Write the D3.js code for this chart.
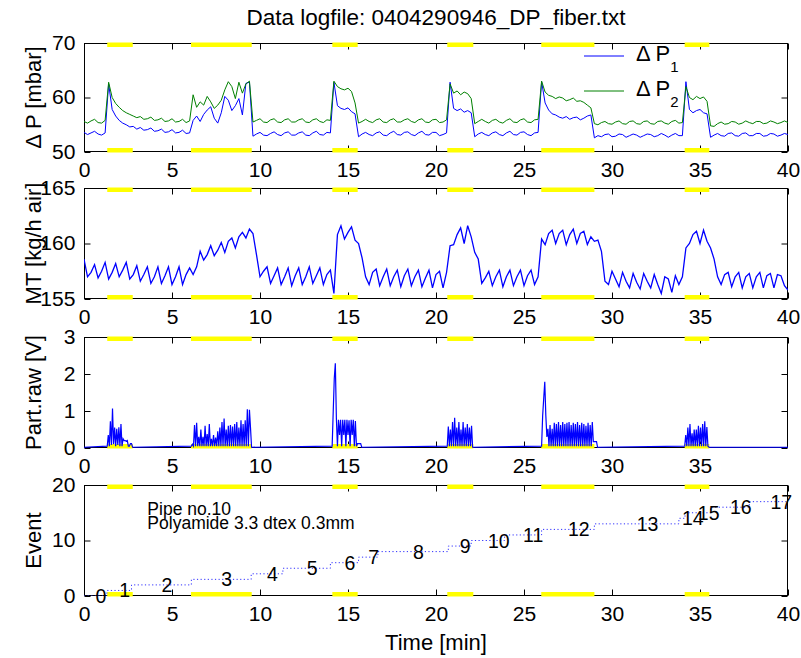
<!DOCTYPE html>
<html><head><meta charset="utf-8">
<script src="https://cdn.jsdelivr.net/npm/d3@7"></script>
<style>body{margin:0;background:#fff}</style>
</head><body><svg id="c" width="801" height="658"></svg>
<script>
// ---------- data ----------
const sampleStart = 0, sampleStep = 0.2; // minutes, for dp1/dp2/mt
const dp1 = [
53.6,53.2,53.5,53.8,53.3,53.1,53.5,62.5,57.8,56.6,
55.8,55.3,55.0,54.6,54.7,54.2,54.5,54.0,54.1,54.4,
53.8,53.9,54.2,53.6,53.7,54.1,53.5,53.6,54.0,53.4,
53.5,55.8,56.6,55.6,56.9,57.7,58.3,56.2,55.3,57.2,
60.2,59.5,57.6,58.5,59.8,56.8,62.6,62.8,52.9,53.3,
53.6,53.1,53.0,53.4,53.7,53.2,53.0,53.5,53.7,53.1,
53.1,53.5,53.7,53.1,53.0,53.5,53.8,53.2,53.1,53.6,
53.5,62.8,58.5,58.0,57.8,58.1,57.4,57.0,52.8,53.3,
53.6,53.2,53.0,53.5,53.7,53.1,53.0,53.5,53.8,53.2,
53.1,53.6,53.7,53.2,53.0,53.5,53.8,53.2,53.1,53.6,
53.6,53.0,53.2,53.5,62.8,58.0,57.6,57.9,57.3,57.6,
57.2,52.8,53.3,53.6,53.2,53.0,53.5,53.7,53.2,53.0,
53.5,53.8,53.2,53.1,53.6,53.7,53.2,53.0,53.5,53.6,
62.9,59.0,57.7,57.0,56.8,56.4,56.2,56.5,56.0,56.3,
56.4,55.9,56.2,56.6,56.8,52.6,53.0,52.8,53.2,53.3,
52.8,52.9,53.3,53.2,52.7,53.0,53.3,53.1,52.7,53.0,
53.3,53.2,52.8,53.0,53.4,53.1,52.7,53.1,53.4,53.0,
53.0,62.9,57.8,57.2,57.6,57.8,57.2,57.0,52.7,53.1,
53.4,53.0,52.9,53.4,53.5,53.0,52.9,53.4,53.5,53.0,
53.0,53.4,53.4,52.9,53.0,53.4,53.3,52.9,53.1,53.4,
53.2];
const dp2 = [
55.6,55.3,55.7,56.0,55.4,55.3,55.8,62.8,60.0,58.9,
58.2,57.6,57.2,56.9,56.6,56.3,56.5,56.0,56.1,56.4,
55.8,55.9,56.2,55.6,55.7,56.1,55.5,55.6,56.0,55.4,
55.7,60.5,58.2,59.2,58.6,60.2,59.2,58.0,58.6,59.5,
61.4,62.9,62.0,59.8,62.8,60.8,62.5,63.0,55.5,55.8,
56.1,55.5,55.4,55.9,56.1,55.5,55.4,55.9,56.1,55.5,
55.5,55.9,56.1,55.5,55.4,55.9,56.1,55.6,55.4,55.9,
55.8,63.0,62.0,61.6,61.4,61.7,61.1,59.0,55.3,55.6,
56.0,55.6,55.4,55.9,56.1,55.5,55.4,55.9,56.1,55.5,
55.5,55.9,56.1,55.6,55.4,55.9,56.1,55.5,55.4,55.9,
56.0,55.4,55.5,55.9,62.5,60.8,61.2,60.5,61.0,60.7,
59.8,55.2,55.6,56.0,55.6,55.3,55.8,56.0,55.5,55.3,
55.8,56.1,55.5,55.4,55.9,56.1,55.5,55.4,55.9,56.0,
63.0,61.0,60.4,60.2,59.8,60.1,59.9,59.4,59.6,59.9,
59.3,59.4,59.1,58.6,58.1,55.2,55.0,55.4,55.6,55.2,
55.1,55.5,55.7,55.2,55.1,55.6,55.7,55.2,55.1,55.6,
55.7,55.2,55.1,55.6,55.7,55.3,55.1,55.6,55.8,55.3,
55.4,62.0,60.0,59.6,60.2,59.8,60.1,59.3,54.8,54.7,
55.2,55.5,55.1,55.2,55.6,55.5,55.1,55.3,55.7,55.4,
55.2,55.6,55.6,55.2,55.3,55.7,55.5,55.2,55.4,55.7,
55.4];
const mt = [
158.6,157.0,157.4,158.1,156.9,157.5,158.3,156.8,157.4,158.2,
157.0,157.6,158.3,156.8,157.2,158.0,156.6,157.2,157.9,156.4,
157.0,157.9,156.4,157.1,157.9,156.3,157.0,157.9,156.3,157.2,
157.8,157.2,157.9,159.3,158.5,159.0,159.8,158.9,159.4,160.1,
159.2,160.2,160.5,159.6,160.6,161.0,160.5,161.3,160.9,159.0,
157.0,157.5,157.9,156.4,157.1,157.8,156.3,157.0,157.8,156.2,
157.1,157.8,156.3,157.0,157.9,156.4,157.1,157.8,156.3,157.2,
157.6,155.5,160.8,161.6,160.4,161.0,161.5,160.3,160.0,158.7,
157.0,156.3,157.4,157.7,156.2,157.0,157.7,156.2,157.0,157.6,
156.1,157.1,157.7,156.2,157.0,157.6,156.1,156.9,157.6,156.0,
157.2,157.5,156.0,157.4,159.8,159.9,160.8,161.4,160.0,161.6,
160.6,159.2,158.6,156.4,156.9,157.5,156.2,157.0,157.6,156.1,
157.0,157.6,156.2,157.0,157.6,156.2,157.1,157.6,156.3,157.0,
160.4,159.9,160.9,161.2,160.0,160.9,161.2,159.9,160.8,161.3,
160.0,160.9,161.1,159.9,160.6,160.2,160.3,159.3,156.6,156.3,
157.5,156.8,156.1,157.4,156.6,156.0,157.3,156.5,155.9,157.3,
156.6,156.0,157.2,156.3,155.5,157.0,156.8,155.6,157.1,156.3,
157.0,159.6,160.0,160.8,161.1,160.0,161.2,160.2,159.6,158.6,
157.0,156.3,157.2,157.4,156.1,157.0,157.4,156.0,157.0,157.3,
156.0,157.0,157.4,156.0,157.1,157.3,156.0,157.2,157.1,156.2,
155.8];

// particle signal: baseline outside bursts, bursts sampled every partStep minutes
const partBaseline = 0.02;
const partStep = 0.06;
const partBurstStart = [1.32, 6.1, 14.1, 20.64, 26.0, 34.13];
const partBurst1 = [0.05,0.35,0.05,0.72,0.08,1.07,0.1,0.55,0.05,0.52,0.08,0.56,0.05,0.65,0.05,0.25,0.2,0.2,0.18,0.2,0.05,0.05,0.12,0.12,0.02];
const partBurst2 = [0.05,0.1,0.05,0.62,0.05,0.68,0.05,0.3,0.05,0.5,
 0.05,0.3,0.05,0.6,0.05,0.38,0.05,0.65,0.05,0.25,
 0.05,0.35,0.05,0.28,0.05,0.45,0.05,0.55,0.05,0.7,
 0.05,0.8,0.05,0.5,0.05,0.6,0.05,0.62,0.05,0.58,
 0.05,0.65,0.05,0.7,0.05,0.55,0.05,0.75,0.05,0.65,
 0.05,0.75,0.05,1.05,0.05,1.03,0.55,0.02];
const partBurst3 = [0.05,0.98,1.88,2.29,0.8,0.05,0.76,0.35,0.76,0.05,0.76,0.35,0.76,0.05,0.76,0.35,0.75,0.05,0.76,0.35,0.76,0.05,0.73,0.05,0.12,0.12,0.12,0.12,0.02];
const partBurst4 = [0.05,0.58,0.05,0.5,0.05,0.7,0.05,0.82,0.05,0.55,0.05,0.7,0.05,0.5,0.05,0.7,0.05,0.55,0.05,0.65,0.05,0.55,0.05,0.6,0.02];
const partBurst5 = [0.05,0.87,1.34,1.79,0.88,0.3,0.52,0.05,0.62,0.05,
 0.52,0.05,0.68,0.05,0.65,0.05,0.7,0.05,0.62,0.05,
 0.7,0.05,0.65,0.05,0.68,0.05,0.7,0.05,0.62,0.05,
 0.68,0.05,0.65,0.05,0.7,0.05,0.62,0.05,0.68,0.05,
 0.65,0.05,0.6,0.05,0.68,0.05,0.62,0.05,0.7,0.17,
 0.17,0.17,0.17,0.02];
const partBurst6 = [0.05,0.35,0.05,0.55,0.05,0.65,0.05,0.4,0.05,0.5,0.05,0.5,0.05,0.6,0.05,0.55,0.05,0.65,0.05,0.72,0.05,0.57,0.05,0.02];
const partBursts = [partBurst1, partBurst2, partBurst3, partBurst4, partBurst5, partBurst6];

// dosing periods (yellow marks)
const dosingStart = [1.32, 6.08, 14.11, 20.64, 25.98, 34.13];
const dosingEnd   = [2.77, 9.53, 15.55, 22.12, 29.0, 35.53];

// events
const eventTimes  = [0, 1.3, 2.7, 6.1, 9.5, 11.3, 14.0, 15.6, 16.7, 20.7, 22.0, 23.9, 26.0, 29.0, 33.8, 34.15, 35.6, 37.8];
const eventValues = [0, 1, 2, 3, 4, 5, 6, 7, 8, 9, 10, 11, 12, 13, 14, 15, 16, 17];
const eventEnd = 40.2;

// ticks & labels
const xTicks = [0, 5, 10, 15, 20, 25, 30, 35, 40];
const xTicksPart = [0, 5, 10, 15, 20, 25, 30, 35];
const yTicksDP = [50, 60, 70];
const yTicksMT = [155, 160, 165];
const yTicksPart = [0, 1, 2, 3];
const yTicksEvent = [0, 10, 20];
const titleText = "Data logfile: 0404290946_DP_fiber.txt";
const noteLines = ["Pipe no.10", "Polyamide 3.3 dtex 0.3mm"];
const noteT = 3.6;

// ---------- drawing ----------
const FONT = '"Liberation Sans", Arial, Helvetica, sans-serif';
const svg = d3.select('#c');
const L = 84, R = 788;
const x = d3.scaleLinear().domain([0, 40]).range([L, R]);

const panels = [
  {top: 43,  bot: 152, dom: [50, 70],   yt: yTicksDP,    xt: xTicks,     lab: 'Δ P [mbar]'},
  {top: 188, bot: 299, dom: [155, 165], yt: yTicksMT,    xt: xTicks,     lab: 'MT [kg/h air]'},
  {top: 337, bot: 448, dom: [0, 3],     yt: yTicksPart,  xt: xTicksPart, lab: 'Part.raw [V]'},
  {top: 485, bot: 596, dom: [0, 20],    yt: yTicksEvent, xt: xTicks,     lab: 'Event'}
];
const defs = svg.append('defs');

function styleAxis(g, size) {
  g.attr('font-family', FONT).attr('font-size', size);
  g.select('.domain').remove();
  g.selectAll('line').attr('stroke', '#000');
  g.selectAll('text').attr('fill', '#000');
}
function widen(g, f) {
  g.selectAll('text').each(function () {
    const len = this.getComputedTextLength();
    if (len > 0) d3.select(this).attr('textLength', len * f).attr('lengthAdjust', 'spacingAndGlyphs');
  });
}

panels.forEach((p, i) => {
  p.y = d3.scaleLinear().domain(p.dom).range([p.bot, p.top]);
  defs.append('clipPath').attr('id', 'cp' + i).append('rect')
    .attr('x', L).attr('y', p.top).attr('width', R - L).attr('height', p.bot - p.top);
  const g = svg.append('g');
  p.g = g;
  g.append('rect').attr('x', L + 0.5).attr('y', p.top + 0.5).attr('width', R - L - 1).attr('height', p.bot - p.top - 1)
    .attr('fill', '#fff').attr('stroke', '#000').attr('stroke-width', 1);
  g.append('g').attr('transform', `translate(${L + 0.5},0)`)
    .call(d3.axisLeft(p.y).tickValues(p.yt).tickSize(-6).tickPadding(9).tickFormat(d3.format('d')))
    .call(a => styleAxis(a, 19.5)).call(a => widen(a, 1.08));
  g.append('g').attr('transform', `translate(${R - 0.5},0)`)
    .call(d3.axisRight(p.y).tickValues(p.yt).tickSize(-6).tickFormat(''))
    .call(a => styleAxis(a, 19));
  g.append('g').attr('transform', `translate(0,${p.bot - 0.5})`)
    .call(d3.axisBottom(x).tickValues(p.xt).tickSize(-6).tickPadding(12).tickFormat(d3.format('d')))
    .call(a => styleAxis(a, 19.5)).call(a => widen(a, 1.08));
  g.append('g').attr('transform', `translate(0,${p.top + 0.5})`)
    .call(d3.axisTop(x).tickValues(xTicks).tickSize(-6).tickFormat(''))
    .call(a => styleAxis(a, 19));
  g.append('text').attr('transform', `translate(41,${(p.top + p.bot) / 2}) rotate(-90)`)
    .attr('text-anchor', 'middle').attr('font-family', FONT).attr('font-size', 22).attr('fill', '#000')
    .text(p.lab);
  const yel = g.append('g').attr('fill', '#ffff00');
  dosingStart.forEach((s, k) => {
    yel.append('rect').attr('x', x(s)).attr('width', x(dosingEnd[k]) - x(s)).attr('y', p.top - 0.5).attr('height', 4.5);
    yel.append('rect').attr('x', x(s)).attr('width', x(dosingEnd[k]) - x(s)).attr('y', p.bot - 4).attr('height', 4.5);
  });
  p.plot = g.append('g').attr('clip-path', `url(#cp${i})`);
});

// panel 1
const tAt = i => sampleStart + i * sampleStep;
const p1 = panels[0];
const line1 = d3.line().x((d, i) => x(tAt(i))).y(d => p1.y(d));
p1.plot.append('path').datum(dp1).attr('d', line1).attr('fill', 'none').attr('stroke', '#0000ff').attr('stroke-width', 1);
p1.plot.append('path').datum(dp2).attr('d', line1).attr('fill', 'none').attr('stroke', '#008000').attr('stroke-width', 1);
const leg = svg.append('g').attr('font-family', FONT).attr('fill', '#000');
[['#0000ff', '1', 56], ['#008000', '2', 91]].forEach(([c, s, yy]) => {
  leg.append('line').attr('x1', 584).attr('x2', 624).attr('y1', yy).attr('y2', yy).attr('stroke', c).attr('stroke-width', 1);
  const t = leg.append('text').attr('x', 636).attr('y', yy + 5).attr('font-size', 22);
  t.append('tspan').text('Δ P');
  t.append('tspan').attr('dy', 11).attr('font-size', 15).text(s);
});

// panel 2
const p2 = panels[1];
p2.plot.append('path').datum(mt)
  .attr('d', d3.line().x((d, i) => x(tAt(i))).y(d => p2.y(d)))
  .attr('fill', 'none').attr('stroke', '#0000ff').attr('stroke-width', 1.3);

// panel 3
const p3 = panels[2];
const partPts = [[0, partBaseline]];
partBursts.forEach((b, k) => b.forEach((v, j) => partPts.push([partBurstStart[k] + j * partStep, v])));
partPts.push([40, partBaseline]);
p3.plot.append('path').datum(partPts)
  .attr('d', d3.line().x(d => x(d[0])).y(d => p3.y(d[1])))
  .attr('fill', 'none').attr('stroke', '#0000ff').attr('stroke-width', 1.2);

// panel 4
const p4 = panels[3];
const evPts = eventTimes.map((t, k) => [t, eventValues[k]]).concat([[eventEnd, eventValues[eventValues.length - 1]]]);
p4.plot.append('path').datum(evPts)
  .attr('d', d3.line().curve(d3.curveStepAfter).x(d => x(d[0])).y(d => p4.y(d[1])))
  .attr('fill', 'none').attr('stroke', '#3030ff').attr('stroke-width', 1).attr('stroke-dasharray', '1.2,2.4');
const evLab = svg.append('g').attr('font-family', FONT).attr('font-size', 19.5).attr('fill', '#000');
eventValues.forEach((v, k) => {
  const t1 = k + 1 < eventTimes.length ? eventTimes[k + 1] : eventEnd;
  evLab.append('text').attr('x', x((eventTimes[k] + t1) / 2)).attr('y', p4.y(v)).attr('dy', '0.36em').text(v);
});
const note = svg.append('g').attr('font-family', FONT).attr('font-size', 17.5).attr('fill', '#000');
noteLines.forEach((s, k) => note.append('text').attr('x', x(noteT)).attr('y', 515 + k * 14).text(s));

// title and x label
svg.append('text').attr('x', (L + R) / 2).attr('y', 25).attr('text-anchor', 'middle')
  .attr('font-family', FONT).attr('font-size', 22.5).attr('fill', '#000').text(titleText);
svg.append('text').attr('x', (L + R) / 2).attr('y', 650).attr('text-anchor', 'middle')
  .attr('font-family', FONT).attr('font-size', 22).attr('fill', '#000').text('Time [min]');
</script>
</body></html>
